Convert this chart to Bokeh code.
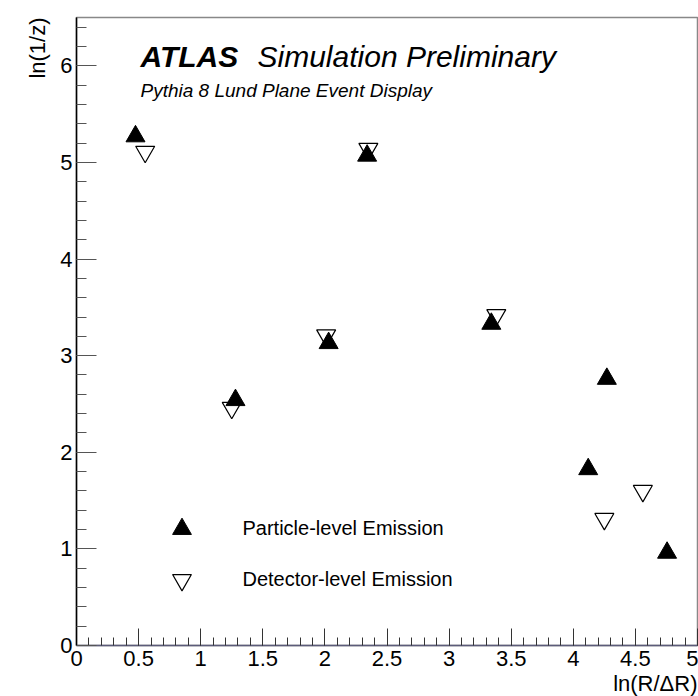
import numpy as np
from bokeh.plotting import figure
from bokeh.models import (FixedTicker, NumeralTickFormatter, Label, Legend,
                          LegendItem, Range1d, ColumnDataSource, Title)
from bokeh.embed import file_html
from bokeh.resources import INLINE

# ---- data ----
particle_x = [0.475, 1.28, 2.03, 2.34, 3.34, 4.12, 4.27, 4.755]
particle_y = [5.27, 2.54, 3.13, 5.07, 3.33, 1.825, 2.76, 0.96]
detector_x = [0.553, 1.25, 2.01, 2.35, 3.38, 4.25, 4.56]
detector_y = [5.11, 2.46, 3.21, 5.14, 3.42, 1.31, 1.60]

x_major = [0, 0.5, 1, 1.5, 2, 2.5, 3, 3.5, 4, 4.5, 5]
x_minor = [round(0.1 * i, 1) for i in range(0, 51)]
y_major = [0, 1, 2, 3, 4, 5, 6]
y_minor = [round(0.2 * i, 1) for i in range(0, 33)]

FONT = "Liberation Sans"

p = figure(width=698, height=696, output_backend="svg", toolbar_location=None,
           x_range=Range1d(0, 5), y_range=Range1d(0, 6.5),
           min_border_left=76, min_border_right=1, min_border_top=17,
           min_border_bottom=51)
p.xgrid.visible = False
p.ygrid.visible = False
p.outline_line_color = "#888888"
p.outline_line_width = 1.5
p.background_fill_color = "white"
p.border_fill_color = "white"

# axes
xa = p.xaxis[0]
xa.ticker = FixedTicker(ticks=x_major, minor_ticks=x_minor)
xa.formatter = NumeralTickFormatter(format="0.[0]")
xa.major_tick_in = 17
xa.major_tick_out = 0
xa.minor_tick_in = 8
xa.minor_tick_out = 0
xa.axis_line_color = "#5c5c7a"
xa.axis_line_width = 1.5
xa.major_tick_line_color = "#333333"
xa.minor_tick_line_color = "#333333"
xa.major_label_text_font = FONT
xa.major_label_text_font_size = "22px"
xa.major_label_text_color = "black"
xa.major_label_standoff = 5

ya = p.yaxis[0]
ya.ticker = FixedTicker(ticks=y_major, minor_ticks=y_minor)
ya.formatter = NumeralTickFormatter(format="0")
ya.major_tick_in = 20
ya.major_tick_out = 0
ya.minor_tick_in = 10
ya.minor_tick_out = 0
ya.axis_line_color = "black"
ya.axis_line_width = 1.5
ya.major_tick_line_color = "#555555"
ya.minor_tick_line_color = "#555555"
ya.major_label_text_font = FONT
ya.major_label_text_font_size = "22px"
ya.major_label_text_color = "black"
ya.major_label_standoff = 4

# axis titles (ROOT style: right-aligned at the end of each axis)
p.add_layout(Title(text="ln(1/z)", align="right", text_font=FONT,
                   text_font_size="22px", text_font_style="normal",
                   text_color="black", standoff=15), "left")
p.add_layout(Title(text="ln(R/ΔR)", align="right", text_font=FONT,
                   text_font_size="22px", text_font_style="normal",
                   text_color="black", standoff=0), "below")

# data markers
src_p = ColumnDataSource(dict(x=particle_x, y=particle_y))
src_d = ColumnDataSource(dict(x=detector_x, y=detector_y))
r_p = p.scatter("x", "y", source=src_p, marker="triangle", size=19,
                fill_color="black", line_color="black", line_width=1)
r_d = p.scatter("x", "y", source=src_d, marker="inverted_triangle", size=19,
                fill_color="white", fill_alpha=0, line_color="black", line_width=1.2)

# legend
legend = Legend(items=[LegendItem(label="Particle-level Emission", renderers=[r_p]),
                       LegendItem(label="Detector-level Emission", renderers=[r_d])],
                location=(81.5, 42.5), glyph_width=47, glyph_height=47,
                label_standoff=38, spacing=4, padding=0, margin=0,
                border_line_color=None, background_fill_alpha=0,
                label_text_font=FONT, label_text_font_size="20px",
                label_text_color="black", label_height=47)
p.add_layout(legend, "center")

# texts
p.add_layout(Label(x=64, y=589, x_units="screen", y_units="screen",
                   text="ATLAS", text_font=FONT, text_font_style="bold italic",
                   text_font_size="30px", text_baseline="alphabetic",
                   text_color="black"))
p.add_layout(Label(x=181, y=589, x_units="screen", y_units="screen",
                   text="Simulation Preliminary", text_font=FONT,
                   text_font_style="italic", text_font_size="30px",
                   text_baseline="alphabetic", text_color="black"))
p.add_layout(Label(x=64, y=555, x_units="screen", y_units="screen",
                   text="Pythia 8 Lund Plane Event Display", text_font=FONT,
                   text_font_style="italic", text_font_size="19px",
                   text_baseline="alphabetic", text_color="black"))

open("out.html", "w").write(file_html(p, INLINE))
